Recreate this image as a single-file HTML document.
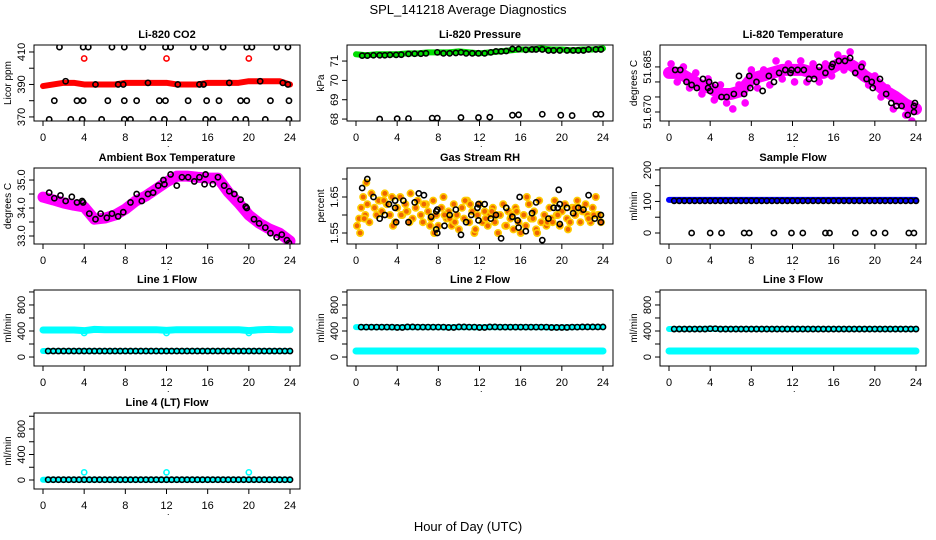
<!DOCTYPE html>
<html><head><meta charset="utf-8">
<style>
html,body{margin:0;padding:0;background:#fff;}
svg{display:block;font-family:"Liberation Sans",Arial,sans-serif;}
</style></head>
<body>
<svg id="chart" width="936" height="540" viewBox="0 0 936 540" xmlns="http://www.w3.org/2000/svg">
<text x="468" y="14" font-size="13" text-anchor="middle">SPL_141218  Average Diagnostics</text>
<text x="468" y="531" font-size="13" text-anchor="middle">Hour of Day (UTC)</text>
</svg>
<script>
// ---- data arrays ----
const hours = [0,1,2,3,4,5,6,7,8,9,10,11,12,13,14,15,16,17,18,19,20,21,22,23,24];
const xTicks = [0,4,8,12,16,20,24];

const co2Band = [389,390,391,391,390,390,390,390,391,391,391,391,391,390,390,390,391,391,391,391,392,392,392,392,390];
const co2RedOutH = [4,12,20];
const co2RedOutV = [406,406,406];
const co2BlackH = [1.6,3.9,4.4,6.7,7.9,9.7,11.9,12.4,14.6,15.8,17.5,19.8,20.3,22.7,23.8, 1.1,3.3,3.9,6.3,7.9,9.1,11.3,11.9,14.1,15.9,17.1,19.2,19.8,22.1,23.9, 0.6,2.7,3.8,5.7,7.9,8.5,10.7,11.8,13.6,15.8,16.5,18.7,19.7,21.6,23.9, 2.2,5.1,7.3,7.8,10.2,13.1,15.2,15.6,18.1,21.1,23.3,23.8];
const co2BlackV = [413,413,413,413,413,413,413,413,413,413,413,413,413,413,413, 380,380,380,380,380,380,380,380,380,380,380,380,380,380,380, 368.5,368.5,368.5,368.5,368.5,368.5,368.5,368.5,368.5,368.5,368.5,368.5,368.5,368.5,368.5, 392,390,390,390,391,390,390,390,391,392,391,390];

const presBand = [71.35,71.3,71.35,71.35,71.35,71.4,71.4,71.45,71.45,71.45,71.5,71.45,71.4,71.45,71.5,71.55,71.6,71.6,71.65,71.6,71.6,71.55,71.6,71.6,71.65];
const presBlackH = [0.6,1.1,1.7,2.3,2.8,3.3,3.9,4.4,5.1,5.7,6.3,6.8,7.9,8.5,9.1,9.7,10.2,10.7,11.3,11.9,12.5,13.1,13.6,14.1,14.6,15.2,15.8,16.5,17.1,17.5,18.1,18.7,19.2,19.8,20.5,21.1,21.6,22.1,22.6,23.3,23.8, 2.3,4.0,5.1,7.4,7.9,10.2,11.9,13.0,15.2,15.8,18.1,19.9,21.0,23.3,23.8];
const presBlackV = [71.28,71.28,71.3,71.3,71.3,71.32,71.32,71.33,71.37,71.38,71.38,71.4,71.45,71.4,71.4,71.42,71.45,71.4,71.4,71.4,71.4,71.45,71.5,71.5,71.52,71.62,71.62,71.58,71.6,71.6,71.6,71.55,71.55,71.55,71.55,71.55,71.55,71.55,71.6,71.6,71.6, 68.0,68.02,68.03,68.05,68.05,68.08,68.08,68.1,68.2,68.22,68.25,68.2,68.18,68.25,68.25];

const ltempBand = [51.683,51.683,51.681,51.679,51.678,51.676,51.676,51.677,51.681,51.682,51.683,51.684,51.684,51.684,51.683,51.683,51.685,51.687,51.685,51.682,51.680,51.677,51.675,51.6725,51.671];
const ltempBlackH = [0.6,1.1,1.7,2.2,2.7,3.3,3.8,3.9,4.0,4.5,5.1,5.6,6.3,6.8,7.3,7.8,7.9,8.5,9.1,9.7,10.2,10.7,11.3,11.8,11.9,12.5,13.1,13.6,14.1,14.6,15.2,15.8,15.9,16.5,17.1,17.6,18.1,18.7,19.2,19.7,19.8,20.5,21.1,21.6,22.1,22.6,23.2,23.8,23.8,23.9];
const ltempBlackV = [51.684,51.684,51.680,51.679,51.678,51.681,51.678,51.680,51.677,51.679,51.675,51.675,51.676,51.682,51.676,51.682,51.678,51.680,51.677,51.682,51.680,51.683,51.684,51.683,51.684,51.684,51.684,51.681,51.681,51.685,51.683,51.685,51.686,51.687,51.687,51.688,51.683,51.685,51.681,51.680,51.678,51.681,51.676,51.673,51.672,51.672,51.669,51.670,51.672,51.673];
const ltempScatterH = [0.2,0.8,1.4,2.0,2.6,3.2,3.8,4.4,5.0,5.6,6.2,6.8,7.4,8.0,8.6,9.2,9.8,10.4,11.0,11.6,12.2,12.8,13.4,14.0,14.6,15.2,15.8,16.4,17.0,17.6,18.2,18.8,19.4,20.0,20.6,21.2,21.8,22.4,23.0,23.6];
const ltempScatterV = [51.686,51.680,51.685,51.678,51.683,51.676,51.681,51.674,51.679,51.673,51.671,51.679,51.673,51.684,51.678,51.684,51.679,51.687,51.681,51.686,51.680,51.687,51.680,51.686,51.680,51.686,51.682,51.689,51.684,51.690,51.683,51.686,51.679,51.682,51.675,51.678,51.671,51.674,51.669,51.667];

const ambBand = [34.39,34.29,34.18,34.1,34.04,33.6,33.64,33.75,33.96,34.25,34.43,34.68,34.93,35.14,35.14,35.1,35.07,35.07,34.57,34.18,33.75,33.46,33.25,33.1,32.82];
const ambBlackH = [0.6,1.1,1.7,2.2,2.8,3.3,3.8,3.9,4.5,5.1,5.6,6.2,6.7,7.3,7.8,8.5,9.1,9.6,10.2,10.7,11.2,11.7,11.8,12.4,13.0,13.5,14.1,14.7,15.2,15.7,15.8,16.5,17.0,17.6,18.1,18.6,19.2,19.7,19.8,20.5,21.0,21.6,22.1,22.7,23.2,23.7,23.9];
const ambBlackV = [34.55,34.35,34.45,34.25,34.4,34.2,34.25,34.2,33.8,33.6,33.8,33.65,33.8,33.7,33.85,34.2,34.5,34.25,34.5,34.55,34.8,35.0,34.85,35.2,34.8,35.1,35.1,34.95,35.1,34.85,35.2,34.85,35.1,34.8,34.6,34.5,34.3,34.05,34.0,33.6,33.45,33.3,33.1,32.95,33.05,32.85,32.75];

const rhCloudH = [0.1,0.3,0.5,0.7,0.9,1.1,1.3,1.5,1.8,2.0,2.3,2.5,2.8,3.0,3.3,3.5,3.8,4.0,4.3,4.5,4.8,5.0,5.3,5.5,5.8,6.0,6.3,6.5,6.8,7.0,7.3,7.5,7.8,8.0,8.3,8.5,8.8,9.0,9.3,9.5,9.8,10.0,10.3,10.5,10.8,11.0,11.3,11.5,11.8,12.0,12.3,12.5,12.8,13.0,13.3,13.5,13.8,14.0,14.3,14.5,14.8,15.0,15.3,15.5,15.8,16.0,16.3,16.5,16.8,17.0,17.3,17.5,17.8,18.0,18.3,18.5,18.8,19.0,19.3,19.5,19.8,20.0,20.3,20.5,20.8,21.0,21.3,21.5,21.8,22.0,22.3,22.5,22.8,23.0,23.3,23.5,23.8,0.4,1.0,2.2,3.6,4.4,5.2,6.6,7.6,8.6,9.6,10.6,11.6,12.6,13.6,14.6,15.6,16.6,17.6,18.6,19.6,20.6,21.6,22.6,23.6,0.8,2.7,4.9,7.2,9.1,11.1,13.2,15.1,17.2,19.1,21.2,23.1];
const rhCloudV = [1.57,1.59,1.62,1.65,1.60,1.63,1.58,1.66,1.62,1.60,1.64,1.61,1.66,1.63,1.60,1.65,1.58,1.62,1.65,1.60,1.63,1.61,1.66,1.59,1.62,1.64,1.60,1.58,1.63,1.61,1.59,1.64,1.60,1.57,1.62,1.65,1.59,1.61,1.57,1.63,1.60,1.56,1.62,1.59,1.64,1.58,1.61,1.55,1.60,1.63,1.58,1.61,1.57,1.60,1.62,1.58,1.55,1.60,1.63,1.57,1.61,1.59,1.56,1.62,1.58,1.55,1.60,1.57,1.63,1.59,1.61,1.56,1.64,1.58,1.60,1.57,1.62,1.59,1.64,1.60,1.57,1.61,1.63,1.59,1.58,1.62,1.60,1.64,1.58,1.61,1.63,1.60,1.58,1.62,1.65,1.60,1.58,1.55,1.69,1.64,1.57,1.60,1.58,1.63,1.55,1.60,1.58,1.64,1.56,1.59,1.60,1.57,1.61,1.65,1.55,1.58,1.60,1.56,1.62,1.59,1.60,1.59,1.64,1.61,1.57,1.59,1.63,1.61,1.60,1.59,1.58,1.62,1.60,1.58];
const rhBlackH = [0.6,1.1,1.7,2.3,2.8,3.2,3.8,3.8,3.9,4.6,5.1,5.7,6.1,6.6,7.3,7.8,7.8,7.9,7.9,8.6,9.1,9.7,10.2,10.7,11.2,11.8,11.9,11.9,12.5,13.1,13.6,14.1,14.6,15.2,15.7,15.8,15.9,16.5,17.1,17.5,18.1,18.7,19.2,19.6,19.7,19.8,19.8,20.5,21.1,21.6,22.1,22.6,23.2,23.8,23.8];
const rhBlackV = [1.675,1.70,1.65,1.59,1.60,1.63,1.64,1.62,1.58,1.64,1.58,1.635,1.66,1.655,1.595,1.61,1.56,1.55,1.615,1.57,1.60,1.615,1.545,1.58,1.60,1.62,1.63,1.585,1.63,1.59,1.60,1.535,1.62,1.595,1.585,1.565,1.65,1.555,1.605,1.635,1.53,1.59,1.62,1.62,1.67,1.575,1.63,1.62,1.605,1.62,1.615,1.655,1.59,1.60,1.58];

const sampleBand = [105,105,105,105,105,105,105,105,105,105,105,105,105,105,105,105,105,105,105,105,105,105,105,105,105];
const sampleZeroH = [2.2,4.0,5.1,7.3,7.8,10.2,11.9,13.0,15.2,15.6,18.1,19.9,21.0,23.3,23.8];

const line1Upper = [415,415,415,415,405,425,420,420,420,420,420,420,410,420,420,420,420,420,420,420,405,420,425,420,420];
const line1Lower = [92,92,92,92,92,92,92,92,92,92,92,92,92,92,92,92,92,92,92,92,92,92,92,92,92];
const line2Black = [460,460,460,460,455,462,460,460,460,455,462,460,455,462,460,460,460,460,460,455,455,460,462,462,462];
const line2Cyan = [92,92,92,92,92,92,92,92,92,92,92,92,92,92,92,92,92,92,92,92,92,92,92,92,92];
const line3Black = [430,430,430,430,435,430,430,430,430,430,430,430,430,430,430,430,430,430,430,430,430,430,430,430,430];
const line3Cyan = [92,92,92,92,92,92,92,92,92,92,92,92,92,92,92,92,92,92,92,92,92,92,92,92,92];
const line4Black = [5,5,5,5,5,5,5,5,5,5,5,5,5,5,5,5,5,5,5,5,5,5,5,5,5];
const line4Cyan = [5,5,5,5,5,5,5,5,5,5,5,5,5,5,5,5,5,5,5,5,5,5,5,5,5];
const line4SpikeH = [4,12,20];
const line4SpikeV = [120,120,120];
const flowDipH = [4,12,20];
const flowDipV = [370,370,370];

// ---- drawing ----
const NS = "http://www.w3.org/2000/svg";
const svg = document.getElementById("chart");
const colLeft = [34, 347, 660];
const rowTop = [45, 168, 290, 413];
const BW = 266, BH = 76;

function mk(tag, parent) { const e = document.createElementNS(NS, tag); parent.appendChild(e); return e; }

function makePanel(col, row, lo, hi, title, ytitle, yt, ylabs) {
  const g = mk("g", svg);
  
  
  const L = colLeft[col], T = rowTop[row];
  const xs = h => L + 9 + h * (247 / 24);
  const ys = v => T + BH - (v - lo) / (hi - lo) * BH;
  const t = mk("text", g);
  t.setAttribute("x", L + BW / 2); t.setAttribute("y", T - 7);
  t.setAttribute("font-size", "11"); t.setAttribute("font-weight", "bold"); t.setAttribute("text-anchor", "middle");
  t.textContent = title;
  
  
  const clipId = "clip" + col + row;
  const cp = mk("clipPath", g); cp.setAttribute("id", clipId);
  const cr = mk("rect", cp);
  cr.setAttribute("x", L); cr.setAttribute("y", T); cr.setAttribute("width", BW); cr.setAttribute("height", BH);
  const dg = mk("g", g);
  dg.setAttribute("clip-path", "url(#" + clipId + ")");
  
  
  const r = mk("rect", g);
  r.setAttribute("x", L); r.setAttribute("y", T); r.setAttribute("width", BW); r.setAttribute("height", BH);
  r.setAttribute("fill", "none"); r.setAttribute("stroke", "#000"); r.setAttribute("stroke-width", "1");
  
  
  xTicks.forEach(h => {
    const l = mk("line", g);
    l.setAttribute("x1", xs(h)); l.setAttribute("x2", xs(h)); l.setAttribute("y1", T + BH); l.setAttribute("y2", T + BH + 5);
    l.setAttribute("stroke", "#000");
    
    
    const tx = mk("text", g);
    tx.setAttribute("x", xs(h)); tx.setAttribute("y", T + BH + 20);
    tx.setAttribute("font-size", "11"); tx.setAttribute("text-anchor", "middle");
    tx.textContent = h;
    
    
  });
  yt.forEach(v => {
    const l = mk("line", g);
    l.setAttribute("x1", L - 5); l.setAttribute("x2", L); l.setAttribute("y1", ys(v)); l.setAttribute("y2", ys(v));
    l.setAttribute("stroke", "#000");
    
    
  });
  ylabs.forEach(v => {
    const tx = mk("text", g);
    tx.setAttribute("transform", "translate(" + (L - 9) + "," + ys(v[0]) + ") rotate(-90)");
    tx.setAttribute("font-size", "11"); tx.setAttribute("text-anchor", "middle");
    tx.textContent = v[1];
    
    
  });
  const yt2 = mk("text", g);
  yt2.setAttribute("transform", "translate(" + (L - 23) + "," + (T + BH / 2) + ") rotate(-90)");
  yt2.setAttribute("font-size", "10"); yt2.setAttribute("text-anchor", "middle");
  yt2.textContent = ytitle;
  
  
  const dot = mk("text", g);
  dot.setAttribute("x", L + BW / 2); dot.setAttribute("y", T + BH + 26); dot.setAttribute("font-size", "9");
  dot.textContent = ".";
  
  
  return { g: dg, xs, ys };
}

function band(p, vals, color, w, name) {
  const pl = mk("polyline", p.g);
  pl.setAttribute("points", hours.map((h, i) => p.xs(h) + "," + p.ys(vals[i])).join(" "));
  pl.setAttribute("fill", "none"); pl.setAttribute("stroke", color); pl.setAttribute("stroke-width", w);
  pl.setAttribute("stroke-linejoin", "round"); pl.setAttribute("stroke-linecap", "round");
  
  
}
function pts(p, H, V, color, name, fill, r) {
  H.forEach((h, i) => {
    const c = mk("circle", p.g);
    c.setAttribute("cx", p.xs(h)); c.setAttribute("cy", p.ys(V[i])); c.setAttribute("r", r || 2.6);
    c.setAttribute("fill", fill || "none"); c.setAttribute("stroke", color); c.setAttribute("stroke-width", "1.6");
    
    
  });
}
function rowPts(p, vals, color, name) {
  const H = [], V = [];
  for (let i = 0; i < hours.length - 1; i++) { H.push(hours[i] + 0.5); V.push(vals[i]); H.push(hours[i] + 1); V.push(vals[i + 1]); }
  pts(p, H, V, color, name);
}

// CO2
let p = makePanel(0, 0, 367.5, 414.3, "Li-820 CO2", "Licor ppm", [370,380,390,400,410], [[370,"370"],[390,"390"],[410,"410"]]);
band(p, co2Band, "#ff0000", 6, "co2-series");
pts(p, co2RedOutH, co2RedOutV, "#ff0000", "co2-outlier");
pts(p, co2BlackH, co2BlackV, "#000", "co2-point");
// Pressure
p = makePanel(1, 0, 67.9, 71.83, "Li-820 Pressure", "kPa", [68,69,70,71], [[68,"68"],[69,"69"],[70,"70"],[71,"71"]]);
band(p, presBand, "#00dd00", 6, "pressure-series");
pts(p, presBlackH, presBlackV, "#000", "pressure-point");
// Li temp
p = makePanel(2, 0, 51.667, 51.6923, "Li-820 Temperature", "degrees C", [51.670,51.675,51.680,51.685], [[51.670,"51.670"],[51.685,"51.685"]]);
band(p, ltempBand, "#ff00ff", 12, "li-temp-series");
pts(p, ltempScatterH, ltempScatterV, "#ff00ff", "li-temp-scatter", "#ff00ff", 3);
pts(p, ltempBlackH, ltempBlackV, "#000", "li-temp-point");
// Ambient
p = makePanel(0, 1, 32.714, 35.43, "Ambient Box Temperature", "degrees C", [33,33.5,34,34.5,35], [[33,"33.0"],[34,"34.0"],[35,"35.0"]]);
band(p, ambBand, "#ff00ff", 11, "ambient-series");
pts(p, ambBlackH, ambBlackV, "#000", "ambient-point");
// RH
p = makePanel(1, 1, 1.5194, 1.7306, "Gas Stream RH", "percent", [1.55,1.60,1.65,1.70], [[1.55,"1.55"],[1.65,"1.65"]]);
pts(p, rhCloudH, rhCloudV, "#ffcc00", "rh-cloud-point", "#ee6600", 3.2);
pts(p, rhBlackH, rhBlackV, "#000", "rh-point");
// Sample flow
p = makePanel(2, 1, -34.9, 206, "Sample Flow", "ml/min", [0,50,100,150,200], [[0,"0"],[100,"100"],[200,"200"]]);
band(p, sampleBand, "#0000ff", 6, "sample-flow-series");
rowPts(p, sampleBand.map(v => v - 3), "#000", "sample-flow-point");
pts(p, sampleZeroH, sampleZeroH.map(() => 0), "#000", "sample-flow-zero-point");
// Line 1
const fy = [0,200,400,600,800,1000], fl = [[0,"0"],[400,"400"],[800,"800"]];
p = makePanel(0, 2, -138, 1030, "Line 1 Flow", "ml/min", fy, fl);
band(p, line1Upper, "#00ffff", 7, "line1-upper-series");
pts(p, flowDipH, flowDipV, "#00ffff", "line1-dip");
band(p, line1Lower, "#00ffff", 6, "line1-lower-series");
rowPts(p, line1Lower, "#000", "line1-point");
// Line 2
p = makePanel(1, 2, -138, 1030, "Line 2 Flow", "ml/min", fy, fl);
band(p, line2Black, "#00ffff", 6, "line2-cyan-upper");
band(p, line2Cyan, "#00ffff", 7, "line2-cyan-series");
rowPts(p, line2Black, "#000", "line2-point");
// Line 3
p = makePanel(2, 2, -138, 1030, "Line 3 Flow", "ml/min", fy, fl);
band(p, line3Black, "#00ffff", 6, "line3-cyan-upper");
band(p, line3Cyan, "#00ffff", 7, "line3-cyan-series");
rowPts(p, line3Black, "#000", "line3-point");
// Line 4
p = makePanel(0, 3, -141, 1051, "Line 4 (LT) Flow", "ml/min", fy, fl);
band(p, line4Cyan, "#00ffff", 6, "line4-cyan-series");
pts(p, line4SpikeH, line4SpikeV, "#00ffff", "line4-spike");
rowPts(p, line4Black, "#000", "line4-point");
</script>
</body></html>
